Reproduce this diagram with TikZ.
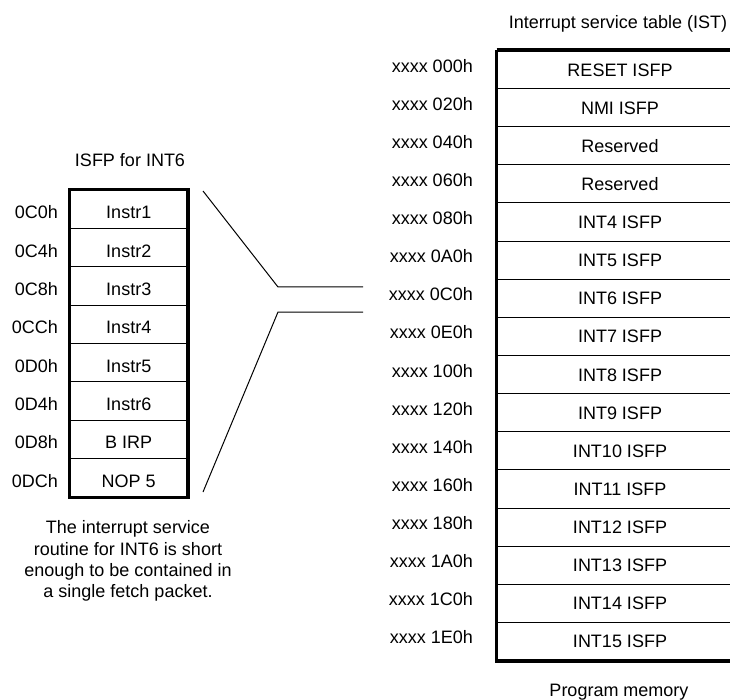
\documentclass[tikz,border=0pt]{standalone}
\usepackage{fontspec}
\setmainfont{Liberation Sans}
\begin{document}
\begin{tikzpicture}[x=1pt,y=-1pt,
  font=\fontsize{18}{21.3}\selectfont,
  thickbox/.style={line width=3.5pt},
  cell/.style={inner sep=0pt, text height=12.9pt, text depth=0pt},
  addr/.style={cell, anchor=east},
  istcell/.style={draw, line width=1pt, inner sep=0pt, minimum width=246pt, minimum height=38.125pt, text height=12.9pt, text depth=0pt},
  isfpcell/.style={draw, line width=1pt, inner sep=0pt, minimum width=117.5pt, minimum height=38.375pt, text height=18.9pt, text depth=0pt},
  isfpaddr/.style={inner sep=0pt, text height=18.9pt, text depth=0pt, anchor=east},
  link/.style={line width=1pt, line join=miter}]
\useasboundingbox (0,0) rectangle (730,700);
\clip (0,0) rectangle (730,700);

% Interrupt service table
\node[cell] (isttitle) at (618,21.7) {Interrupt service table (IST)};
\foreach \t [count=\i from 0] in {RESET ISFP,NMI ISFP,Reserved,Reserved,INT4 ISFP,INT5 ISFP,INT6 ISFP,INT7 ISFP,INT8 ISFP,INT9 ISFP,INT10 ISFP,INT11 ISFP,INT12 ISFP,INT13 ISFP,INT14 ISFP,INT15 ISFP}{
  \node[istcell] (ist\i) at (620,{50.5+(\i+0.5)*38.125}) {\t};
}
\foreach \a [count=\i from 0] in {000,020,040,060,080,0A0,0C0,0E0,100,120,140,160,180,1A0,1C0,1E0}{
  \node[addr] (ia\i) at (473,{50.5+(\i+0.5)*38.125-4}) {xxxx \a h};
}
\draw[thickbox] (ist0.north west) -- (ist0.north east);
\draw[thickbox] (ist0.north west) -- (ist15.south west) -- (ist15.south east);
\node[cell] (pm) at (619,690) {Program memory};

% ISFP for INT6
\node[cell] (ftitle) at (130,160) {ISFP for INT6};
\foreach \t [count=\i from 0] in {Instr1,Instr2,Instr3,Instr4,Instr5,Instr6,B IRP,NOP 5}{
  \node[isfpcell] (f\i) at (128.75,{190+(\i+0.5)*38.375}) {\t};
}
\foreach \a [count=\i from 0] in {0C0h,0C4h,0C8h,0CCh,0D0h,0D4h,0D8h,0DCh}{
  \node[isfpaddr] (fa\i) at (58,{190+(\i+0.5)*38.375}) {\a};
}
\draw[thickbox] (f0.north west) rectangle (f7.south east);

% expansion lines
\coordinate (p1) at (203,191);
\coordinate (k1) at (278,287);
\coordinate (e1) at (363,287);
\coordinate (p2) at (203,492);
\coordinate (k2) at (278,312);
\coordinate (e2) at (363,312);
\draw[link] (p1) -- (k1) -- (e1);
\draw[link] (p2) -- (k2) -- (e2);

% caption
\node[align=center, inner sep=0pt, anchor=north] (caption) at (128,520.5)
  {The interrupt service\\routine for INT6 is short\\enough to be contained in\\a single fetch packet.};
\end{tikzpicture}
\end{document}
